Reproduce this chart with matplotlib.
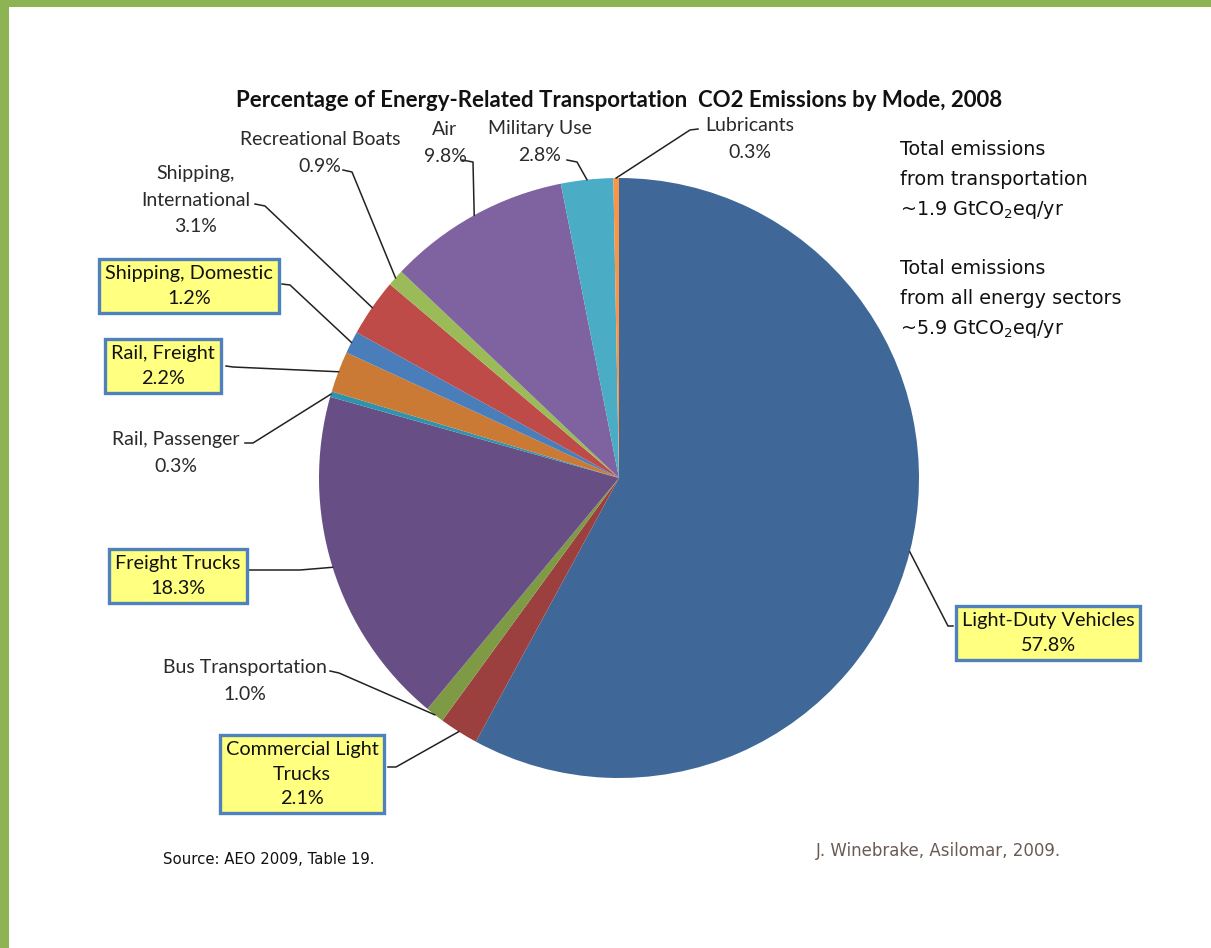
import matplotlib
matplotlib.use("Agg")
import matplotlib.pyplot as plt
import numpy as np

# --- data (clockwise from 12 o'clock) ---
modes = ['Light-Duty Vehicles', 'Commercial Light\nTrucks', 'Bus Transportation',
         'Freight Trucks', 'Rail, Passenger', 'Rail, Freight', 'Shipping, Domestic',
         'Shipping,\nInternational', 'Recreational Boats', 'Air', 'Military Use', 'Lubricants']
shares = [57.8, 2.1, 1.0, 18.3, 0.3, 2.2, 1.2, 3.1, 0.9, 9.8, 2.8, 0.3]
highlighted = ['Light-Duty Vehicles', 'Commercial Light\nTrucks', 'Freight Trucks',
               'Rail, Freight', 'Shipping, Domestic']
colors = ['#3F6899', '#9C403F', '#7E9A45', '#674F85', '#3093AE', '#CB7A36',
          '#4A7EBB', '#BE4B48', '#9BBB59', '#7F63A1', '#4BACC6', '#F79646']

W, H = 1211, 948
CX, CY, R = 619, 478, 300

plt.rcParams['font.family'] = ['Lato', 'DejaVu Sans']

def Y(y):
    # pixel row from the top -> data y
    return H - y

fig = plt.figure(figsize=(W / 100, H / 100), dpi=100)
ax = fig.add_axes([0, 0, 1, 1])

wedges, _ = ax.pie(shares, colors=colors, startangle=90, counterclock=False,
                   center=(CX, Y(CY)), radius=R, wedgeprops=dict(linewidth=0))
ax.set_xlim(0, W)
ax.set_ylim(0, H)
ax.set_aspect('equal')
ax.axis('off')

# green frame
ax.add_patch(plt.Rectangle((0, 0), 9, H, color='#8DB352', lw=0))
ax.add_patch(plt.Rectangle((0, Y(7)), W, 7, color='#8DB352', lw=0))

# label placement: text centre, line start, elbow
layout = {
    'Light-Duty Vehicles':        ((1048, 633), (953, 626), (948, 626)),
    'Commercial Light\nTrucks':   ((302, 774), (388, 767), (396, 767)),
    'Bus Transportation':         ((245, 681), (330, 671), (339, 673)),
    'Freight Trucks':             ((178, 576), (248, 570), (300, 570)),
    'Rail, Passenger':            ((176, 453), (245, 443), (253, 443)),
    'Rail, Freight':              ((163, 366), (226, 366), (233, 367)),
    'Shipping, Domestic':         ((189, 286), (282, 284), (290, 285)),
    'Shipping,\nInternational':   ((196, 200), (255, 204), (265, 206)),
    'Recreational Boats':         ((320, 153), (343, 170), (352, 172)),
    'Air':                        ((445, 143), (462, 160), (473, 162)),
    'Military Use':               ((540, 142), (567, 160), (577, 162)),
    'Lubricants':                 ((750, 139), (698, 129), (690, 130)),
}

for w, name, val in zip(wedges, modes, shares):
    mid = np.deg2rad((w.theta1 + w.theta2) / 2)
    ex = CX + R * np.cos(mid)
    ey = Y(CY) + R * np.sin(mid)
    (tx, ty), (sx, sy), (kx, ky) = layout[name]
    ax.plot([sx, kx, ex], [Y(sy), Y(ky), ey], color='#222222', lw=1.1, zorder=3)
    label = f'{name}\n{val:.1f}%'
    if name in highlighted:
        ax.text(tx, Y(ty), label, ha='center', va='center', fontsize=14.3,
                color='#111111', linespacing=1.52, zorder=4,
                bbox=dict(boxstyle='square,pad=0.3', fc='#FFFF80', ec='#4F81BD', lw=2.4))
    else:
        ax.text(tx, Y(ty), label, ha='center', va='center', fontsize=14,
                color='#2A2A2A', linespacing=1.66, zorder=4)

ax.text(619, Y(100), 'Percentage of Energy-Related Transportation  CO2 Emissions by Mode, 2008',
        ha='center', va='center', fontsize=16, fontweight='bold', color='#111111')

notes = ['Total emissions', 'from transportation', r'~1.9 GtCO$_\mathregular{2}$eq/yr',
         'Total emissions', 'from all energy sectors', r'~5.9 GtCO$_\mathregular{2}$eq/yr']
note_rows = [149, 179, 210, 268, 298, 329]
for s, r in zip(notes, note_rows):
    ax.text(900, Y(r), s, ha='left', va='center', fontsize=13.8, color='#111111',
            family='DejaVu Sans')

ax.text(163, Y(860), 'Source: AEO 2009, Table 19.', ha='left', va='center',
        fontsize=10.7, color='#111111', family='DejaVu Sans')
ax.text(816, Y(851), 'J. Winebrake, Asilomar, 2009.', ha='left', va='center',
        fontsize=12, color='#6B5B55', family='DejaVu Sans')

fig.savefig('out.png', dpi=100, facecolor='white')
